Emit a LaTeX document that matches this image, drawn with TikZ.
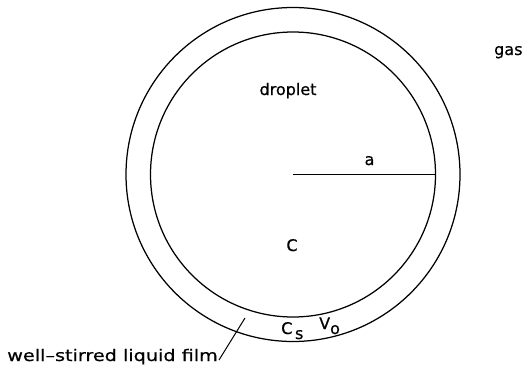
\documentclass[tikz,border=0pt]{standalone}
\usepackage{fontspec}
\setmainfont[FakeBold=0.6]{DejaVu Sans}
\begin{document}
\begin{tikzpicture}[x=1pt,y=-1pt,
  lbl/.style={inner sep=0pt, font=\fontsize{16}{16}\selectfont},
  ln/.style={line width=1.25pt}]
\useasboundingbox (0,0) rectangle (524,369);
\coordinate (O) at (293,174.5);
\draw[ln] (O) circle[radius=167];
\draw[ln] (O) circle[radius=142.5];
\coordinate (R) at (435.5,174.5);
\draw[ln] (O) -- (R);
\node[lbl, anchor=base] (a) at (369.5,165) {a};
\node[lbl, anchor=base] (droplet) at (288,95) {droplet};
\node[lbl, anchor=base west] (gas) at (494,55) {gas};
\node[lbl, anchor=base] (C) at (292,251) {C};
\node[lbl, anchor=base west] (Cs) at (281,334) {C\,\raisebox{-5pt}{s}};
\node[lbl, anchor=base west] (Vo) at (319,329) {V\raisebox{-5pt}{o}};
\node[lbl, anchor=base east] (film) at (218,361) {\scalebox{1.2}[1]{well–stirred liquid film}};
\coordinate (fe) at (245,318);
\draw[line width=1pt] (film.base east) ++(1,-1) -- (fe);
\end{tikzpicture}
\end{document}
